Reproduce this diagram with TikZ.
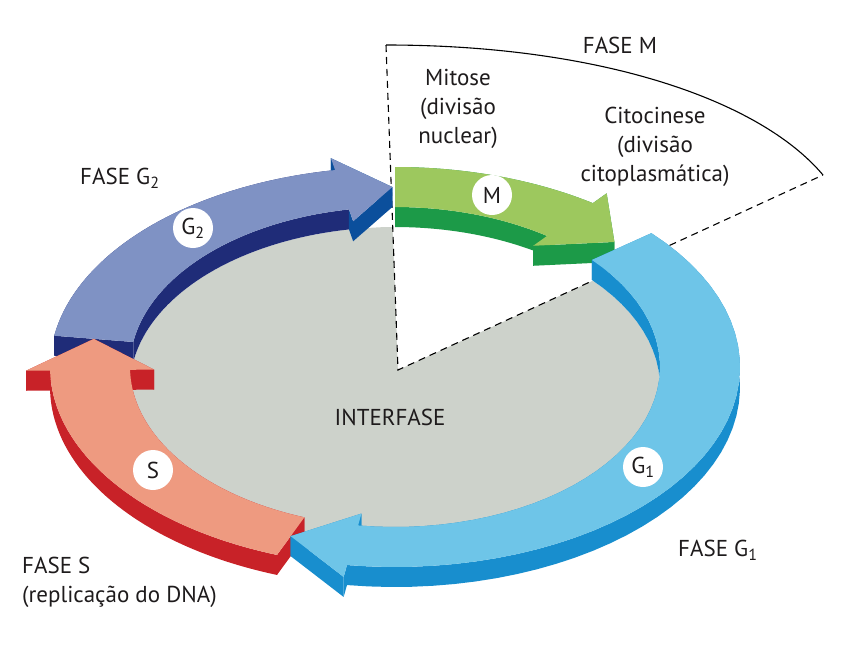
\documentclass[tikz,border=0pt]{standalone}
\usepackage{fontspec}
\setmainfont{PT Sans}

% colours of the four phases
\definecolor{floorgrey}{RGB}{205,210,203}
\definecolor{mtop}{RGB}{157,200,94}
\definecolor{mwall}{RGB}{28,154,72}
\definecolor{gtwotop}{RGB}{127,146,196}
\definecolor{gtwowall}{RGB}{31,44,120}
\definecolor{gtwoface}{RGB}{11,79,156}
\definecolor{stop}{RGB}{238,154,128}
\definecolor{swall}{RGB}{200,34,40}
\definecolor{gonetop}{RGB}{110,197,232}
\definecolor{gonewall}{RGB}{24,142,206}
\definecolor{inktext}{RGB}{30,27,28}

% one curved arrow of the ring:
% #1 tail angle, #2 head base angle, #3 tip angle,
% #4 top, #5 outer wall, #6 inner wall and tail, #7 head sides
\newcommand\phasearrow[7]{%
  \fill[#5] plot[domain=#1:#2,samples=40] ({px(\x,1)},{py(\x,1,0)})
    -- plot[domain=#2:#1,samples=40] ({px(\x,1)},{py(\x,1,20)}) -- cycle;
  \fill[#6] plot[domain=#1:#2,samples=40] ({px(\x,0)},{py(\x,0,0)})
    -- plot[domain=#2:#1,samples=40] ({px(\x,0)},{py(\x,0,20)}) -- cycle;
  \fill[#6] ({px(#1,0)},{py(#1,0,0)}) -- ({px(#1,1)},{py(#1,1,0)})
    -- ({px(#1,1)},{py(#1,1,20)}) -- ({px(#1,0)},{py(#1,0,20)}) -- cycle;
  \foreach \fa/\ta/\fb/\tb in {0/#2/-0.3/#2, -0.3/#2/0.5/#3, 0.5/#3/1.3/#2, 1.3/#2/1/#2}
    \fill[#7] ({px(\ta,\fa)},{py(\ta,\fa,0)}) -- ({px(\tb,\fb)},{py(\tb,\fb,0)})
      -- ({px(\tb,\fb)},{py(\tb,\fb,20)}) -- ({px(\ta,\fa)},{py(\ta,\fa,20)}) -- cycle;
  \fill[#4] plot[domain=#1:#2,samples=40] ({px(\x,1)},{py(\x,1,0)})
    -- ({px(#2,1.3)},{py(#2,1.3,0)}) -- ({px(#3,0.5)},{py(#3,0.5,0)})
    -- ({px(#2,-0.3)},{py(#2,-0.3,0)})
    -- plot[domain=#2:#1,samples=40] ({px(\x,0)},{py(\x,0,0)}) -- cycle;
}

\begin{document}
\begin{tikzpicture}
    [
    x = 1pt, y = -1pt,
    declare function = {rx(\f)=265+80*\f; ry(\f)=160+40*\f;
        px(\t,\f)=395+rx(\f)*cos(\t); py(\t,\f,\z)=367-ry(\f)*sin(\t)+\z;},
    every node/.style = {text=inktext},
    lbl/.style  = {font=\fontsize{23}{29}\selectfont, align=center, inner sep=0pt},
    tag/.style  = {circle, fill=white, minimum size=40pt, inner sep=0pt,
                   font=\fontsize{23}{26}\selectfont},
    sector/.style = {dashed, dash pattern=on 7pt off 5pt, line width=1.1pt}
    ]
    \useasboundingbox (0,0) rectangle (859,657);

    % floor and the cut out M sector
    \fill[floorgrey] plot[domain=0:360,samples=90] ({px(\x,0)},{py(\x,0,20)}) -- cycle;
    \coordinate (apex) at (398,370);
    \coordinate (mstart) at (386,45);
    \coordinate (mend) at (823,175);
    \fill[white] (apex) -- (mstart) -- (mend) -- cycle;
    \draw[sector] (mstart) -- (apex) -- (mend);
    \draw[line width=1.1pt] (mstart) .. controls (600,45) and (760,100) .. (mend);

    % the ring, clockwise from M
    \phasearrow{90}{55}{44}{mtop}{mwall}{mwall}{mwall}
    \phasearrow{171}{100}{90.5}{gtwotop}{gtwowall}{gtwowall}{gtwoface}
    \phasearrow{250}{181}{171}{stop}{swall}{swall}{swall}
    \phasearrow{42}{-98}{-110}{gonetop}{gonewall}{gonewall}{gonewall}

    % phase tags
    \node[tag] (tagm)  at (492,195) {M};
    \node[tag] (tagg2) at (193,228) {G\textsubscript{2}};
    \node[tag] (tags)  at (153,470) {S};
    \node[tag] (tagg1) at (643,467) {G\textsubscript{1}};

    % labels
    \node[lbl] (fasem) at (620,45) {FASE M};
    \node[lbl] (mitose) at (458,109) {Mitose\\(divisão\\nuclear)};
    \node[lbl] (citocinese) at (655,147) {Citocinese\\(divisão\\citoplasmática)};
    \node[lbl, anchor=west] (faseg2) at (80,178) {FASE G\textsubscript{2}};
    \node[lbl] (interfase) at (390,417) {INTERFASE};
    \node[lbl, anchor=west] (faseg1) at (678,550) {FASE G\textsubscript{1}};
    \node[lbl, anchor=west, align=left] (fases) at (22,582) {FASE S\\(replicação do DNA)};
\end{tikzpicture}
\end{document}
